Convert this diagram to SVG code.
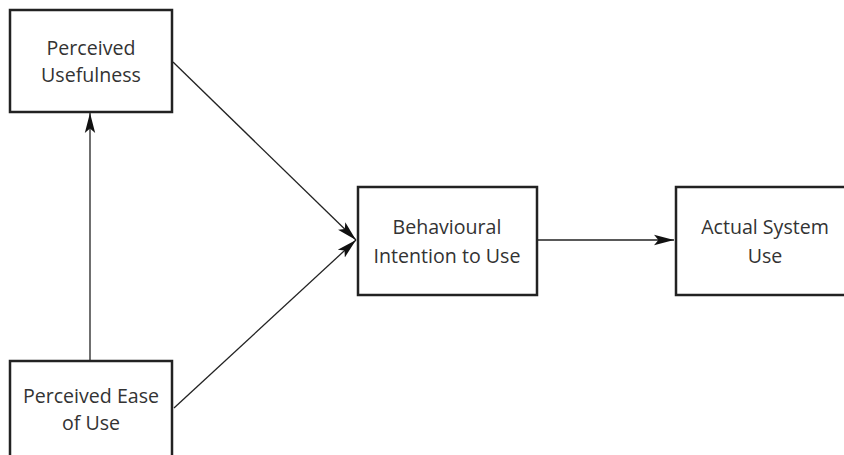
<svg xmlns="http://www.w3.org/2000/svg" width="844" height="455" viewBox="0 0 844 455">
  <style>
    .box { fill: #ffffff; stroke: #222222; stroke-width: 2.5; }
    .lbl { font-family: "Open Sans", "Noto Sans", sans-serif; font-size: 19.6px; fill: #333333; text-anchor: middle; }
    .edge { stroke: #222222; stroke-width: 1.3; fill: none; marker-end: url(#arrow); }
  </style>
  <defs>
    <marker id="arrow" viewBox="0 0 10 10" refX="10" refY="5" markerWidth="20" markerHeight="20" markerUnits="userSpaceOnUse" orient="auto">
      <path d="M0,2.4 L10,5 L0,7.6 L2.2,5 Z" fill="#111111"/>
    </marker>
  </defs>
  <rect width="844" height="455" fill="#ffffff"/>

  <g id="connectors">
    <line class="edge" x1="90" y1="360" x2="90" y2="113"/>
    <line class="edge" x1="173" y1="62" x2="356" y2="240"/>
    <line class="edge" x1="174" y1="408" x2="356" y2="240"/>
    <line class="edge" x1="538" y1="240" x2="674" y2="240"/>
  </g>

  <g id="perceived-usefulness">
    <rect class="box" x="10" y="10" width="162" height="102"/>
    <text class="lbl" x="91" y="55">Perceived</text>
    <text class="lbl" x="91" y="82">Usefulness</text>
  </g>

  <g id="perceived-ease-of-use">
    <rect class="box" x="10" y="361" width="162" height="100"/>
    <text class="lbl" x="91" y="403">Perceived Ease</text>
    <text class="lbl" x="91" y="430">of Use</text>
  </g>

  <g id="behavioural-intention">
    <rect class="box" x="358" y="187" width="179" height="108"/>
    <text class="lbl" x="447" y="234">Behavioural</text>
    <text class="lbl" x="447" y="263">Intention to Use</text>
  </g>

  <g id="actual-system-use">
    <rect class="box" x="676" y="187" width="172" height="108"/>
    <text class="lbl" x="765" y="234">Actual System</text>
    <text class="lbl" x="765" y="263">Use</text>
  </g>
</svg>
